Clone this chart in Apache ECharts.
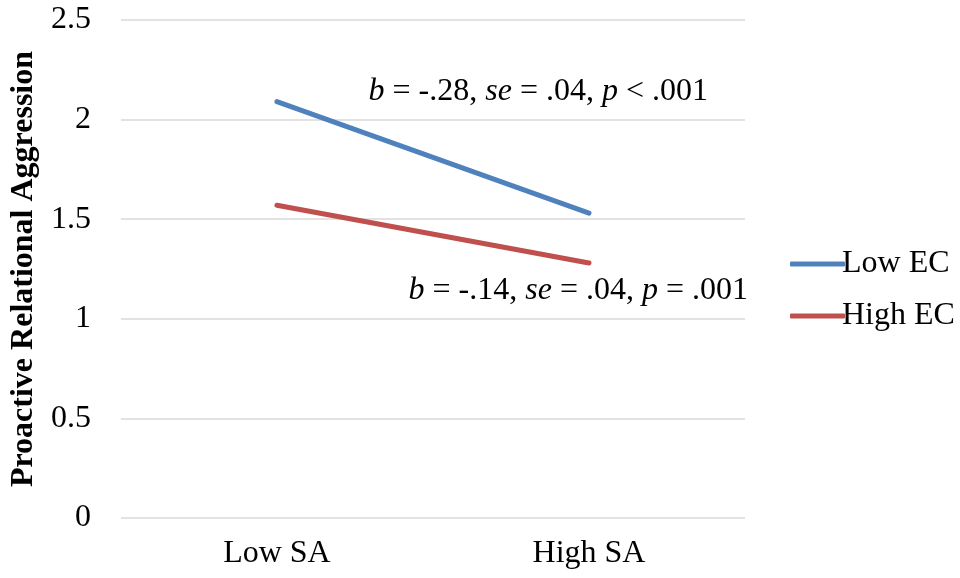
<!DOCTYPE html>
<html><head><meta charset="utf-8">
<script src="https://cdn.jsdelivr.net/npm/echarts@6/dist/echarts.min.js"></script>
<style>html,body{margin:0;padding:0;background:#fff}#c{width:960px;height:578px}</style>
</head><body><div id="c"></div>
<script>
const categories = ['Low SA', 'High SA'];
const lowEC = [2.09, 1.53];
const highEC = [1.57, 1.28];
const yTicks = [0, 0.5, 1, 1.5, 2, 2.5];
const seriesNames = ['Low EC', 'High EC'];
const yAxisTitle = 'Proactive Relational Aggression';

const FONT = '"Liberation Serif", "Times New Roman", serif';
const FS = 32;
const chart = echarts.init(document.getElementById('c'));
chart.setOption({
  backgroundColor: '#fff',
  animation: false,
  textStyle: { fontFamily: FONT, color: '#000' },
  grid: { left: 118, right: 215, top: 20, bottom: 60 },
  xAxis: {
    type: 'category', data: categories, boundaryGap: true,
    axisLine: { show: false }, axisTick: { show: false },
    axisLabel: { fontFamily: FONT, fontSize: FS, color: '#000', margin: 20 }
  },
  yAxis: {
    type: 'value', min: yTicks[0], max: yTicks[yTicks.length - 1], interval: 0.5,
    name: yAxisTitle, nameLocation: 'middle', nameGap: 78,
    nameTextStyle: { fontFamily: FONT, fontSize: FS, fontWeight: 'bold', color: '#000' },
    axisLine: { show: false }, axisTick: { show: false },
    axisLabel: { fontFamily: FONT, fontSize: FS, color: '#000', margin: 30 },
    splitLine: { lineStyle: { color: '#d9d9d9', width: 1.5 } }
  },
  legend: {
    orient: 'vertical', left: 785, top: 243, itemGap: 20,
    itemWidth: 55, itemHeight: 5, icon: 'roundRect',
    textStyle: { fontFamily: FONT, fontSize: FS, color: '#000', padding: [0, 0, 0, -8] },
    data: seriesNames
  },
  series: [
    { name: seriesNames[0], type: 'line', data: lowEC, symbol: 'none',
      lineStyle: { color: '#4F81BD', width: 5, cap: 'round' }, itemStyle: { color: '#4F81BD' } },
    { name: seriesNames[1], type: 'line', data: highEC, symbol: 'none',
      lineStyle: { color: '#C0504D', width: 5, cap: 'round' }, itemStyle: { color: '#C0504D' } }
  ],
  graphic: [
    { type: 'text', right: 252, top: 76,
      style: { text: '{i|b} = -.28, {i|se} = .04, {i|p} < .001', font: FS + 'px ' + FONT, fill: '#000',
        rich: { i: { fontStyle: 'italic', fontFamily: FONT, fontSize: FS } } } },
    { type: 'text', right: 212, top: 275,
      style: { text: '{i|b} = -.14, {i|se} = .04, {i|p} = .001', font: FS + 'px ' + FONT, fill: '#000',
        rich: { i: { fontStyle: 'italic', fontFamily: FONT, fontSize: FS } } } }
  ]
});
</script></body></html>
